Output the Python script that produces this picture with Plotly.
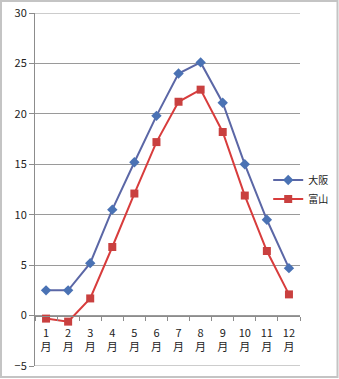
import plotly.graph_objects as go

months = ["1<br>月", "2<br>月", "3<br>月", "4<br>月", "5<br>月", "6<br>月",
          "7<br>月", "8<br>月", "9<br>月", "10<br>月", "11<br>月", "12<br>月"]
osaka = [2.5, 2.5, 5.2, 10.5, 15.2, 19.8, 24.0, 25.1, 21.1, 15.0, 9.5, 4.7]
toyama = [-0.3, -0.6, 1.7, 6.8, 12.1, 17.2, 21.2, 22.4, 18.2, 11.9, 6.4, 2.1]
y_ticks = [-5, 0, 5, 10, 15, 20, 25, 30]

font_family = "Noto Sans CJK JP, Noto Sans, sans-serif"

fig = go.Figure()
fig.add_trace(go.Scatter(
    x=months, y=osaka, name="大阪", mode="lines+markers",
    line=dict(color="#5b67a6", width=2),
    marker=dict(symbol="diamond", size=8, color="#4a72b4"),
))
fig.add_trace(go.Scatter(
    x=months, y=toyama, name="富山", mode="lines+markers",
    line=dict(color="#d83c3c", width=2),
    marker=dict(symbol="square", size=8, color="#c9403f"),
))

# Paper coordinates of the outer frame (plot area spans 35..300 x 13..366 px)
def px_x(px):
    return (px - 35) / 265

def px_y(py):
    return (366 - py) / 353

fig.add_shape(type="rect", xref="paper", yref="paper",
              x0=px_x(1), x1=px_x(337.5), y0=px_y(377), y1=px_y(1),
              line=dict(color="#c4c4c4", width=2), layer="below")

# Gridlines at the top and bottom edges of the value range
for v in (y_ticks[0], y_ticks[-1]):
    fig.add_shape(type="line", xref="paper", yref="y",
                  x0=0, x1=1, y0=v, y1=v,
                  line=dict(color="#9a9a9a", width=1), layer="below")

fig.update_layout(
    width=339, height=379,
    margin=dict(l=35, r=39, t=13, b=13, autoexpand=False),
    paper_bgcolor="white", plot_bgcolor="white",
    font=dict(family=font_family, size=11, color="#222"),
    showlegend=True,
    legend=dict(x=0.88, y=0.50, xanchor="left", yanchor="middle",
                bgcolor="rgba(0,0,0,0)", font=dict(size=10),
                itemwidth=30, tracegroupgap=0),
    xaxis=dict(
        anchor="free", position=5 / 35,
        showline=True, linecolor="#8c8c8c", linewidth=1,
        ticks="outside", tickson="boundaries", ticklen=4, tickcolor="#8c8c8c",
        showgrid=False, tickfont=dict(size=11), tickangle=0,
        ticklabelstandoff=7,
        range=[-0.5, 11.5],
    ),
    yaxis=dict(
        range=[-5, 30], tickvals=y_ticks,
        showline=True, linecolor="#8c8c8c", linewidth=1,
        ticks="outside", ticklen=5, tickcolor="#8c8c8c",
        showgrid=True, gridcolor="#9a9a9a", gridwidth=1,
        zeroline=False, tickfont=dict(size=11),
    ),
)

fig.write_html("out.html")
